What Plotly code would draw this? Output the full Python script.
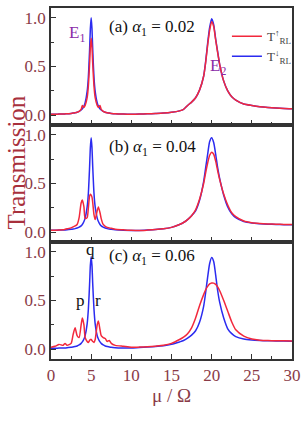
import plotly.graph_objects as go
from plotly.subplots import make_subplots

# ---------------- data ----------------
mu_low = [0, 0.5, 1, 1.5, 1.75, 2, 2.5, 2.75, 3, 3.25, 3.5, 3.75, 3.9, 4.1, 4.25,
          4.5, 4.65, 4.8, 4.9, 5, 5.1, 5.2, 5.35, 5.5, 5.75, 5.9, 6.1, 6.25, 6.5,
          6.75, 7, 7.25, 7.5, 8, 9, 10]
mu_high = [11, 12, 13, 14, 15, 16, 16.5, 17, 17.5, 18, 18.5, 19, 19.25, 19.5,
           19.75, 20, 20.25, 20.5, 20.75, 21, 21.5, 22, 22.5, 23, 24, 25, 26, 27,
           28, 29, 30]

# panel (a) alpha1 = 0.02
a_up_low = [0.01, 0.01, 0.012, 0.013, 0.014, 0.015, 0.019, 0.022, 0.026, 0.03, 0.04,
            0.06, 0.1, 0.08, 0.1, 0.18, 0.3, 0.52, 0.7, 0.79, 0.7, 0.52, 0.3, 0.18,
            0.1, 0.08, 0.1, 0.06, 0.04, 0.031, 0.026, 0.022, 0.019, 0.015, 0.012, 0.011]
a_up_high = [0.012, 0.015, 0.018, 0.022, 0.03, 0.045, 0.06, 0.1, 0.135, 0.18, 0.26,
             0.4, 0.54, 0.72, 0.87, 0.96, 0.91, 0.77, 0.64, 0.52, 0.35, 0.25, 0.19,
             0.155, 0.115, 0.1, 0.088, 0.08, 0.074, 0.069, 0.066]
a_dn_low = [0.01, 0.01, 0.012, 0.013, 0.014, 0.015, 0.019, 0.022, 0.026, 0.031, 0.04,
            0.054, 0.067, 0.094, 0.128, 0.245, 0.39, 0.66, 0.89, 1.0, 0.89, 0.66, 0.39,
            0.245, 0.128, 0.094, 0.067, 0.054, 0.04, 0.031, 0.026, 0.022, 0.019, 0.015,
            0.012, 0.011]
a_dn_high = [0.012, 0.015, 0.018, 0.022, 0.03, 0.045, 0.06, 0.1, 0.135, 0.18, 0.26,
             0.4, 0.55, 0.74, 0.9, 0.99, 0.93, 0.78, 0.65, 0.52, 0.35, 0.25, 0.19,
             0.155, 0.115, 0.1, 0.088, 0.08, 0.074, 0.069, 0.066]

# panel (b) alpha1 = 0.04
b_up_low = [0.02, 0.02, 0.022, 0.025, 0.03, 0.035, 0.045, 0.055, 0.065, 0.08, 0.15,
            0.3, 0.33, 0.26, 0.14, 0.15, 0.25, 0.37, 0.39, 0.38, 0.36, 0.3, 0.18, 0.13,
            0.22, 0.26, 0.2, 0.14, 0.08, 0.06, 0.05, 0.045, 0.04, 0.03, 0.025, 0.02]
b_up_high = [0.018, 0.022, 0.027, 0.035, 0.05, 0.08, 0.1, 0.13, 0.17, 0.23, 0.34, 0.5,
             0.61, 0.71, 0.79, 0.82, 0.8, 0.73, 0.63, 0.54, 0.39, 0.28, 0.2, 0.16,
             0.115, 0.098, 0.09, 0.085, 0.082, 0.08, 0.079]
b_dn_low = [0.02, 0.02, 0.022, 0.023, 0.024, 0.025, 0.03, 0.033, 0.037, 0.043, 0.052,
            0.066, 0.08, 0.11, 0.145, 0.26, 0.4, 0.66, 0.87, 0.97, 0.87, 0.66, 0.4, 0.26,
            0.145, 0.11, 0.08, 0.066, 0.052, 0.043, 0.037, 0.033, 0.03, 0.025, 0.02, 0.018]
b_dn_high = [0.018, 0.022, 0.027, 0.035, 0.05, 0.08, 0.1, 0.13, 0.17, 0.22, 0.33, 0.52,
             0.66, 0.8, 0.93, 0.97, 0.92, 0.8, 0.66, 0.55, 0.38, 0.26, 0.19, 0.15, 0.11,
             0.095, 0.088, 0.083, 0.08, 0.078, 0.077]

# panel (c) alpha1 = 0.06
c_up_low = [0.02, 0.03, 0.05, 0.04, 0.06, 0.04, 0.06, 0.15, 0.22, 0.14, 0.12, 0.25,
            0.32, 0.25, 0.12, 0.08, 0.07, 0.09, 0.1, 0.1, 0.09, 0.08, 0.07, 0.1, 0.25,
            0.29, 0.2, 0.14, 0.12, 0.11, 0.08, 0.09, 0.06, 0.04, 0.03, 0.02]
c_up_high = [0.022, 0.026, 0.032, 0.04, 0.06, 0.1, 0.125, 0.16, 0.22, 0.32, 0.45, 0.56,
             0.61, 0.645, 0.67, 0.68, 0.678, 0.665, 0.64, 0.6, 0.5, 0.39, 0.28, 0.2,
             0.135, 0.105, 0.093, 0.089, 0.087, 0.086, 0.085]
c_dn_low = [0.01, 0.01, 0.012, 0.013, 0.014, 0.016, 0.02, 0.024, 0.028, 0.034, 0.044,
            0.06, 0.075, 0.105, 0.14, 0.26, 0.41, 0.66, 0.86, 0.95, 0.86, 0.66, 0.41,
            0.26, 0.14, 0.105, 0.075, 0.06, 0.044, 0.034, 0.028, 0.024, 0.02, 0.016,
            0.013, 0.012]
c_dn_high = [0.018, 0.022, 0.027, 0.035, 0.05, 0.075, 0.09, 0.115, 0.145, 0.19, 0.28,
             0.44, 0.58, 0.74, 0.88, 0.94, 0.9, 0.76, 0.6, 0.48, 0.32, 0.21, 0.16, 0.13,
             0.105, 0.095, 0.09, 0.087, 0.085, 0.084, 0.083]

panel_labels = ["(a) <i>α</i><sub>1</sub> = 0.02",
                "(b) <i>α</i><sub>1</sub> = 0.04",
                "(c) <i>α</i><sub>1</sub> = 0.06"]
series_names = ["T<sup>↑</sup><sub>RL</sub>", "T<sup>↓</sup><sub>RL</sub>"]
x_ticks = [0, 5, 10, 15, 20, 25, 30]
y_ticks = [0.0, 0.5, 1.0]

# ---------------- figure ----------------
RED = "#f2283c"
BLUE = "#2b2bf0"
TICKC = "#8a3b47"
FONT = "Liberation Serif"

mu = mu_low + mu_high
panels = [(a_up_low + a_up_high, a_dn_low + a_dn_high),
          (b_up_low + b_up_high, b_dn_low + b_dn_high),
          (c_up_low + c_up_high, c_dn_low + c_dn_high)]

fig = make_subplots(rows=3, cols=1, shared_xaxes=True, vertical_spacing=0)

for i, (up, dn) in enumerate(panels):
    r = i + 1
    fig.add_trace(go.Scatter(x=mu, y=dn, mode="lines", name=series_names[1],
                             line=dict(color=BLUE, width=1.5, shape="spline", smoothing=0.6),
                             showlegend=(i == 0), legendrank=2), row=r, col=1)
    fig.add_trace(go.Scatter(x=mu, y=up, mode="lines", name=series_names[0],
                             line=dict(color=RED, width=1.5, shape="spline", smoothing=0.6),
                             showlegend=(i == 0), legendrank=1), row=r, col=1)

for r in range(1, 4):
    fig.update_xaxes(range=[0, 30], tickvals=x_ticks, ticks="inside", ticklen=5,
                     tickcolor="#333", showline=True, mirror=True, linecolor="#333",
                     linewidth=1.5, showgrid=False, zeroline=False,
                     ticklabeloverflow="allow",
                     minor=dict(ticks="inside", ticklen=3, dtick=2.5, tick0=0, tickcolor="#333"),
                     showticklabels=(r == 3), tickfont=dict(family=FONT, size=17, color=TICKC),
                     row=r, col=1)
    fig.update_yaxes(range=[-0.1, 1.1], tickvals=y_ticks, tickformat=".1f",
                     ticks="inside", ticklen=5, tickcolor="#333", showline=True,
                     mirror=True, linecolor="#333", linewidth=1.5, showgrid=False,
                     zeroline=False,
                     minor=dict(ticks="inside", ticklen=3, dtick=0.25, tick0=0, tickcolor="#333"),
                     tickfont=dict(family=FONT, size=17, color=TICKC), row=r, col=1)

fig.update_xaxes(title=dict(text="μ / Ω", font=dict(family=FONT, size=19, color=TICKC),
                            standoff=4), row=3, col=1)

# panel labels
label_pos = [(7.0, 0.89), (7.0, 0.86), (7.0, 0.95)]
for i, (lx, ly) in enumerate(label_pos):
    fig.add_annotation(x=lx, y=ly, text=panel_labels[i], showarrow=False,
                       xanchor="left", yanchor="middle",
                       xref=f"x{'' if i == 0 else i + 1}", yref=f"y{'' if i == 0 else i + 1}",
                       font=dict(family=FONT, size=17, color="#111"))

PURPLE = "#8a2aa8"
fig.add_annotation(x=3.2, y=0.83, text="E<sub>1</sub>", showarrow=False, xref="x", yref="y",
                   font=dict(family=FONT, size=17, color=PURPLE))
fig.add_annotation(x=20.8, y=0.49, text="E<sub>2</sub>", showarrow=False, xref="x", yref="y",
                   font=dict(family=FONT, size=17, color=PURPLE))
for t, tx, ty in [("q", 4.9, 1.02), ("p", 3.7, 0.5), ("r", 5.9, 0.5)]:
    fig.add_annotation(x=tx, y=ty, text=t, showarrow=False, xref="x3", yref="y3",
                       font=dict(family=FONT, size=17, color="#111"))

fig.add_annotation(x=-0.145, y=0.56, xref="paper", yref="paper", text="Transmission",
                   textangle=-90, showarrow=False, xanchor="center", yanchor="middle",
                   font=dict(family=FONT, size=25, color="#a8303c"))

fig.update_layout(
    width=307, height=433,
    margin=dict(l=51, r=8, t=6, b=74),
    paper_bgcolor="white", plot_bgcolor="white",
    showlegend=True,
    legend=dict(x=0.73, y=0.962, xanchor="left", yanchor="top",
                bgcolor="rgba(0,0,0,0)", font=dict(family=FONT, size=13, color="#444"),
                tracegroupgap=0, itemwidth=30),
)

fig.write_html("out.html")
